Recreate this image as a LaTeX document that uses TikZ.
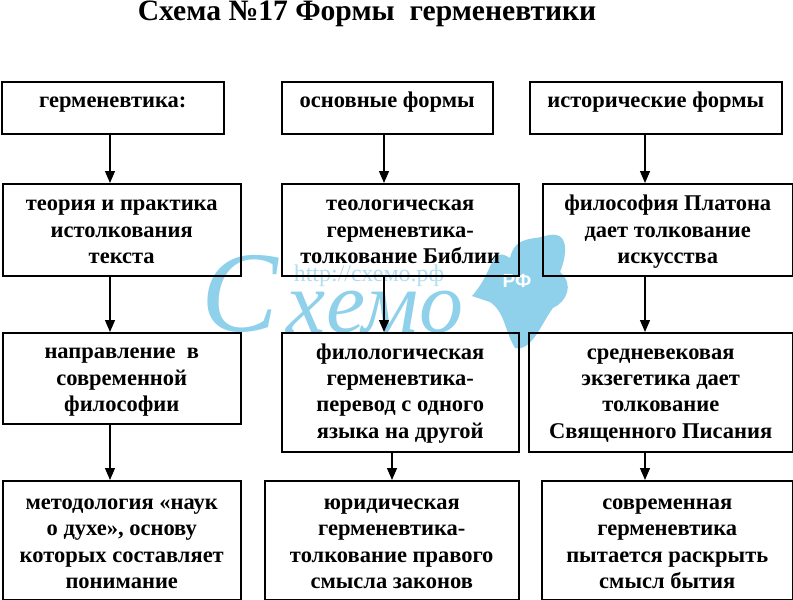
\documentclass[tikz,border=0pt]{standalone}
\usepackage{fontspec}
\setmainfont{Liberation Serif}
\newfontfamily\logofont{Liberation Sans}
\usetikzlibrary{arrows.meta,positioning}
\definecolor{splash}{HTML}{8FD0EA}
\begin{document}
\begin{tikzpicture}[x=1pt,y=-1pt,
 box/.style={draw,line width=1.5pt,align=center,font=\bfseries\fontsize{22.5}{26.4}\selectfont,inner sep=0pt,anchor=north west,
  execute at begin node={\rule{0pt}{#1}},execute at end node={\rule[-7pt]{0pt}{0pt}}},
 box/.default=104pt,
 headbox/.style={box=20pt,minimum height=52,execute at end node={\rule[-20pt]{0pt}{0pt}}},
 arrow/.style={-{Stealth[length=12pt,width=10pt,inset=0pt]},line width=1.3pt},
 water/.style={text=splash,font=\itshape,inner sep=0pt}]
 \useasboundingbox (0,0) rectangle (793,600);
 % watermark
 \fill[splash] (472,296) .. controls (495,270) and (490,245) .. (510,258) .. controls (515,235) and (535,240) .. (545,236) .. controls (572,228) and (566,258) .. (560,272) .. controls (575,285) and (566,302) .. (553,308) .. controls (542,322) and (532,352) .. (515,348) .. controls (505,332) and (505,312) .. (490,302) -- cycle;
 \node[text=white,font=\logofont\bfseries\fontsize{19}{19}\selectfont] (rf) at (517,281) {РФ};
 \node[water,font=\itshape\fontsize{115}{115}\selectfont] (logoc) at (240,294) {С};
 \node[water,font=\itshape\fontsize{88}{88}\selectfont] (logo) at (375,312) {хемо};
 \node[text=splash!70,font=\fontsize{24}{24}\selectfont] (url) at (369,276) {http://схемо.рф};
 \node[font=\bfseries\fontsize{29.6}{30}\selectfont,inner sep=0pt] (title) at (367,14) {Схема №17 Формы\ \ герменевтики};
 \coordinate (col1) at (110,0);
 \coordinate (col2) at (384,0);
 \coordinate (col2b) at (392,0);
 \coordinate (col3) at (645,0);
 % first column
 \node[headbox,minimum width=222] (herm) at (1,81) {герменевтика:};
 \node[box=75pt,minimum width=238,minimum height=92] (theory) at (2,183) {теория и практика\\истолкования\\текста};
 \node[box=74pt,minimum width=238,minimum height=91] (direction) at (2,332) {направление\ \ в\\современной\\философии};
 \node[box,minimum width=238,minimum height=119] (method) at (2,480) {методология «наук\\о духе», основу\\которых составляет\\понимание};
 \draw[arrow] (col1 |- herm.south)--(col1 |- theory.north);
 \draw[arrow] (col1 |- theory.south)--(col1 |- direction.north);
 \draw[arrow] (col1 |- direction.south)--(col1 |- method.north);
 % second column
 \node[headbox,minimum width=211] (basic) at (281,81) {основные формы};
 \node[box=75pt,minimum width=237,minimum height=92] (theol) at (281,183) {теологическая\\герменевтика-\\толкование Библии};
 \node[box=99pt,minimum width=237,minimum height=119] (phil) at (281,332) {филологическая\\герменевтика-\\перевод с одного\\языка на другой};
 \node[box,minimum width=254,minimum height=119] (law) at (264,480) {юридическая\\герменевтика-\\толкование правого\\смысла законов};
 \draw[arrow] (col2 |- basic.south)--(col2 |- theol.north);
 \draw[arrow] (col2 |- theol.south)--(col2 |- phil.north);
 \draw[arrow] (col2b |- phil.south)--(col2b |- law.north);
 % third column
 \node[headbox,minimum width=252] (hist) at (529,81) {исторические формы};
 \node[box=75pt,minimum width=250,minimum height=92] (plato) at (542,183) {философия Платона\\дает толкование\\искусства};
 \node[box=99pt,minimum width=264,minimum height=119] (medieval) at (528,332) {средневековая\\экзегетика дает\\толкование\\Священного Писания};
 \node[box,minimum width=251,minimum height=119] (modern) at (541,480) {современная\\герменевтика\\пытается раскрыть\\смысл бытия};
 \draw[arrow] (col3 |- hist.south)--(col3 |- plato.north);
 \draw[arrow] (col3 |- plato.south)--(col3 |- medieval.north);
 \draw[arrow] (col3 |- medieval.south)--(col3 |- modern.north);
\end{tikzpicture}
\end{document}
